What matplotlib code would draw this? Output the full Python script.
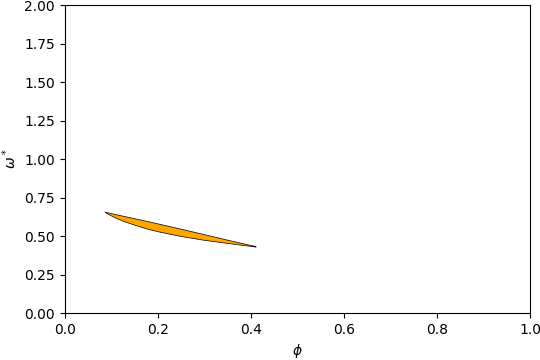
import matplotlib
matplotlib.use("Agg")
import matplotlib.pyplot as plt

# upper boundary (left to right)
upper_phi = [0.086, 0.12, 0.16, 0.20, 0.25, 0.30, 0.35, 0.411]
upper_omega = [0.656, 0.633, 0.607, 0.580, 0.545, 0.510, 0.474, 0.432]
# lower boundary (left to right)
lower_phi = [0.086, 0.095, 0.105, 0.115, 0.13, 0.15, 0.175, 0.20, 0.25, 0.30, 0.35, 0.411]
lower_omega = [0.656, 0.640, 0.624, 0.610, 0.592, 0.572, 0.548, 0.529, 0.498, 0.473, 0.453, 0.429]

poly_x = upper_phi + lower_phi[::-1]
poly_y = upper_omega + lower_omega[::-1]

fig, ax = plt.subplots(figsize=(5.4, 3.6), dpi=100)
ax.fill(poly_x, poly_y, facecolor='orange', edgecolor='black', linewidth=0.5)
ax.set_xlim(0, 1)
ax.set_ylim(0, 2)
ax.set_xlabel(r'$\phi$')
ax.set_ylabel(r'$\omega^*$')
fig.subplots_adjust(left=0.12, right=0.982, top=0.986, bottom=0.13)
fig.savefig('out.png')
